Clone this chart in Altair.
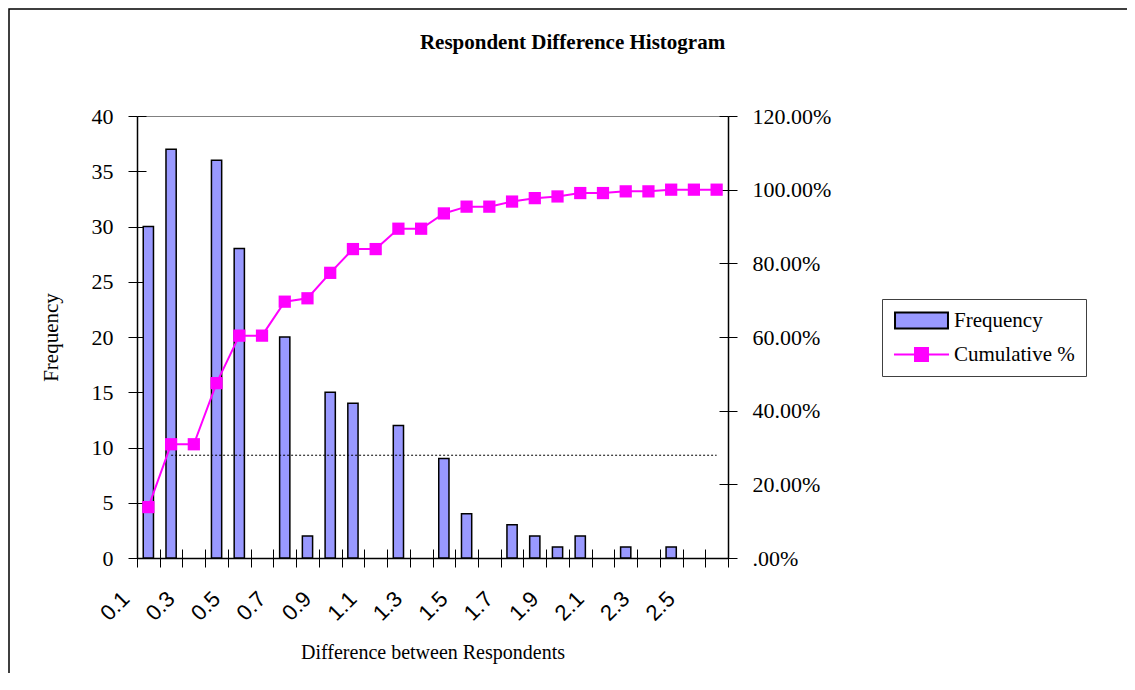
import json
import altair as alt
import pandas as pd

# ---------------- data ----------------
bins = ['0.1', '0.2', '0.3', '0.4', '0.5', '0.6', '0.7', '0.8', '0.9', '1',
        '1.1', '1.2', '1.3', '1.4', '1.5', '1.6', '1.7', '1.8', '1.9', '2',
        '2.1', '2.2', '2.3', '2.4', '2.5', 'More']
shown_labels = ['0.1', '0.3', '0.5', '0.7', '0.9', '1.1', '1.3', '1.5', '1.7',
                '1.9', '2.1', '2.3', '2.5']
freq = [30, 37, 0, 36, 28, 0, 20, 2, 15, 14, 0, 12, 0, 9, 4, 0, 3, 2, 1, 2,
        0, 1, 0, 1, 0, 0]
cum_pct = [13.82, 30.88, 30.88, 47.47, 60.37, 60.37, 69.59, 70.51, 77.42,
           83.87, 83.87, 89.40, 89.40, 93.55, 95.39, 95.39, 96.77, 97.70,
           98.16, 99.08, 99.08, 99.54, 99.54, 100.0, 100.0, 100.0]
freq_ticks = [0, 5, 10, 15, 20, 25, 30, 35, 40]
pct_ticks = [0, 0.2, 0.4, 0.6, 0.8, 1.0, 1.2]
series = ['Frequency', 'Cumulative %']
dotted_from = ['0.2']
dotted_to = ['More']
dotted_level = [9.3]

# ---------------- styling ----------------
SERIF = 'Liberation Serif'
SANS = 'Liberation Sans'
W, H = 591, 442
BAR_FILL = '#9999FF'
MAGENTA = '#FF00FF'

main_df = pd.DataFrame({'bin': bins, 'freq': freq,
                        'cum': [v / 100 for v in cum_pct]})
rule_df = pd.DataFrame({'x0': dotted_from, 'x1': dotted_to,
                        'level': dotted_level})
legend_df = pd.DataFrame({'series': series, 'bin': ['More', 'More'],
                          'cum': [0, 0]})
frame_df = pd.DataFrame({'k': [0]})

x_scale = alt.Scale(domain=bins, paddingInner=0, paddingOuter=0)
freq_scale = alt.Scale(domain=[0, 40], nice=False, zero=True)
pct_scale = alt.Scale(domain=[0, 1.2], nice=False, zero=True)

label_expr = ("indexof(" + json.dumps(shown_labels) +
              ", datum.label) >= 0 ? datum.label : ''")
pct_expr = "datum.value == 0 ? '.00%' : format(datum.value, '.2%')"

x_main_axis = alt.Axis(
    orient='bottom', tickBand='extent', tickSize=9, tickWidth=1,
    tickColor='black', domain=True, domainColor='black', domainWidth=1.5,
    grid=False, labelAngle=-45, labelAlign='right', labelBaseline='middle',
    labelFont=SANS, labelFontSize=22, labelColor='black', labelPadding=28,
    labelOffset=-23, labelOverlap=False, labelExpr=label_expr,
    titleFont=SERIF, titleFontSize=20, titleFontWeight='normal',
    titleColor='black', titleBaseline='alphabetic', titleY=100)
x_inner_axis = alt.Axis(
    orient='bottom', offset=-9, tickBand='extent', tickSize=9, tickWidth=1,
    tickColor='black', domain=False, labels=False, grid=False, title=None)
y_freq_axis = alt.Axis(
    orient='left', values=freq_ticks, tickSize=9, tickColor='black',
    domain=True, domainColor='black', domainWidth=1.5, grid=False,
    labelFont=SERIF, labelFontSize=22, labelColor='black', labelPadding=15,
    titleFont=SERIF, titleFontSize=21, titleFontWeight='normal',
    titleColor='black', titleBaseline='alphabetic', titleX=-80, titleY=H / 2)
y_freq_inner = alt.Axis(
    orient='left', offset=-9, values=freq_ticks, tickSize=9,
    tickColor='black', domain=False, labels=False, grid=False, title=None)
y_pct_axis = alt.Axis(
    orient='right', values=pct_ticks, tickSize=9, tickColor='black',
    domain=True, domainColor='black', domainWidth=1.5, grid=False,
    labelFont=SERIF, labelFontSize=22, labelColor='black', labelPadding=15,
    labelExpr=pct_expr, title=None)
y_pct_inner = alt.Axis(
    orient='right', offset=-9, values=pct_ticks, tickSize=9,
    tickColor='black', domain=False, labels=False, grid=False, title=None)

rect_path = 'M-3.31,-1H3.31V1H-3.31Z'
line_path = 'M-3.44,0H3.44M-0.81,-0.81H0.81V0.81H-0.81Z'
legend = alt.Legend(
    title=None, orient='none', legendX=745, legendY=183, direction='vertical',
    padding=11, rowPadding=10, symbolSize=256, symbolStrokeWidth=2,
    symbolOffset=18, symbolOpacity=1, labelOffset=22, labelFont=SERIF,
    labelFontSize=21, labelColor='black', strokeColor='#404040',
    fillColor='white', labelLimit=400)

frame = alt.Chart(frame_df).mark_rect(
    fill='white', fillOpacity=0, stroke='black', strokeWidth=1.5
).encode(x=alt.value(-128), y=alt.value(-107), x2=alt.value(1100),
         y2=alt.value(700))

bars = alt.Chart(main_df).transform_filter('datum.freq > 0').mark_bar(
    width=alt.RelativeBandSize(0.45), fill=BAR_FILL, stroke='black',
    strokeWidth=1.5
).encode(
    x=alt.X('bin:N', scale=x_scale, axis=x_main_axis,
            title='Difference between Respondents'),
    y=alt.Y('freq:Q', scale=freq_scale, axis=y_freq_axis, title='Frequency'),
)

rule = alt.Chart(rule_df).mark_rule(
    color='black', strokeWidth=1, strokeDash=[2, 2]
).encode(
    x=alt.X('x0:N', scale=x_scale, axis=x_inner_axis),
    x2='x1:N',
    y=alt.Y('level:Q', scale=freq_scale, axis=y_freq_inner),
)

line = alt.Chart(main_df).mark_line(color=MAGENTA, strokeWidth=2).encode(
    x=alt.X('bin:N', scale=x_scale, axis=None),
    y=alt.Y('cum:Q', scale=pct_scale, axis=y_pct_axis),
)

points = alt.Chart(main_df).mark_point(
    shape='square', filled=True, size=150, color=MAGENTA, opacity=1
).encode(
    x=alt.X('bin:N', scale=x_scale, axis=None),
    y=alt.Y('cum:Q', scale=pct_scale, axis=y_pct_inner),
)

legend_layer = alt.Chart(legend_df).mark_point(filled=True, opacity=0).encode(
    x=alt.X('bin:N', scale=x_scale, axis=None),
    y=alt.Y('cum:Q', scale=pct_scale, axis=None),
    fill=alt.Fill('series:N', scale=alt.Scale(domain=series,
                  range=[BAR_FILL, MAGENTA]), legend=legend),
    stroke=alt.Stroke('series:N', scale=alt.Scale(domain=series,
                      range=['black', MAGENTA]), legend=legend),
    shape=alt.Shape('series:N', scale=alt.Scale(domain=series,
                    range=[rect_path, line_path]), legend=legend),
)

chart = alt.layer(
    frame, bars, rule, line, points, legend_layer
).resolve_scale(
    y='independent'
).resolve_axis(
    x='independent', y='independent'
).properties(
    width=W, height=H,
    autosize=alt.AutoSizeParams(type='none'),
    padding={'left': 129, 'top': 108, 'right': 399, 'bottom': 115},
    title=alt.TitleParams(
        text='Respondent Difference Histogram', font=SERIF, fontSize=21,
        fontWeight='bold', color='black', anchor='middle', frame='group',
        dx=140, dy=62, offset=0, baseline='alphabetic'),
).configure_view(
    stroke='#808080', strokeWidth=1
)

chart.save('out.html', embed_options={'renderer': 'svg', 'actions': False})
